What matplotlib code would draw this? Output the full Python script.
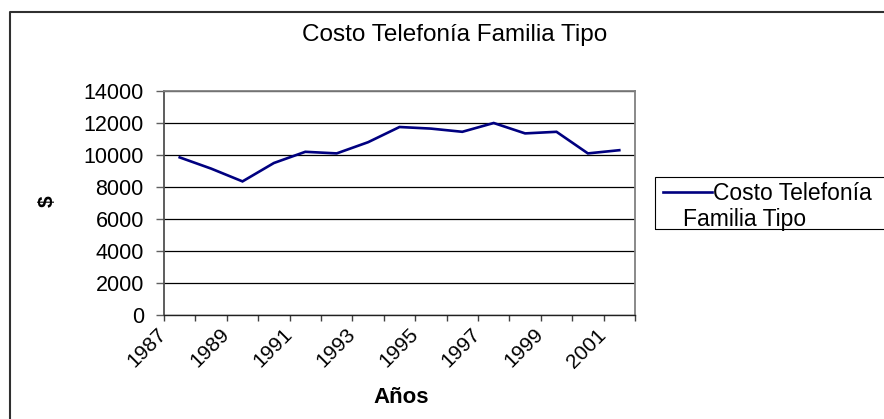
import matplotlib.pyplot as plt
from matplotlib.lines import Line2D
from matplotlib.patches import Rectangle
from matplotlib.transforms import ScaledTranslation

plt.rcParams["font.family"] = ["Liberation Sans", "DejaVu Sans"]

years = ["1987", "1988", "1989", "1990", "1991", "1992", "1993", "1994",
         "1995", "1996", "1997", "1998", "1999", "2000", "2001"]
costo = [9850, 9150, 8350, 9500, 10200, 10100, 10800, 11750,
         11650, 11450, 12000, 11350, 11450, 10100, 10300]
y_ticks = [0, 2000, 4000, 6000, 8000, 10000, 12000, 14000]

W, H = 884, 419
fig = plt.figure(figsize=(W / 100, H / 100), dpi=100)
ax = fig.add_axes([164 / W, 1 - 315 / H, (635 - 164) / W, (315 - 91) / H])

x = list(range(len(years)))
ax.plot(x, costo, color="#000080", lw=1.9, solid_joinstyle="miter")

ax.set_xlim(-0.5, len(years) - 0.5)
ax.set_ylim(0, 14000)
ax.set_yticks(y_ticks)
ax.set_yticklabels([str(v) for v in y_ticks], fontsize=15.5)
ax.tick_params(axis="y", direction="out", length=5.5, width=1, color="#606060", pad=9)

# category boundaries as major ticks, labels on every other category center
ax.set_xticks([i - 0.5 for i in range(len(years) + 1)])
ax.set_xticklabels([])
ax.tick_params(axis="x", which="major", direction="out", length=4.5, width=1, color="#404040")
ax.set_xticks(x[::2], minor=True)
ax.set_xticklabels(years[::2], minor=True, rotation=45, ha="right",
                   rotation_mode="anchor", va="center", fontsize=15)
ax.tick_params(axis="x", which="minor", length=0, pad=12)
off = ScaledTranslation(-0.16, 0, fig.dpi_scale_trans)
for lab in ax.get_xticklabels(minor=True):
    lab.set_transform(lab.get_transform() + off)

ax.yaxis.grid(True, color="black", lw=0.9)
ax.set_axisbelow(True)
for s in ["top", "right"]:
    ax.spines[s].set_color("#808080")
    ax.spines[s].set_linewidth(1.3)
ax.spines["left"].set_color("#505050")
ax.spines["left"].set_linewidth(1.3)
ax.spines["bottom"].set_color("#202020")
ax.spines["bottom"].set_linewidth(1.0)

fig.text(455 / W, 1 - 35 / H, "Costo Telefonía Familia Tipo",
         ha="center", va="center", fontsize=17.5)
fig.text(401 / W, 1 - 397 / H, "Años", ha="center", va="center",
         fontsize=16, fontweight="bold")
fig.text(47 / W, 1 - 201 / H, "$", ha="center", va="center",
         fontsize=15, fontweight="bold", rotation=90)

# legend drawn like the original chart (box runs off the right edge)
fig.add_artist(Rectangle((655 / W, 1 - 229 / H), 0.3, 52 / H,
                         transform=fig.transFigure, fill=False,
                         edgecolor="black", lw=0.8))
fig.add_artist(Line2D([663 / W, 712 / W], [1 - 192 / H, 1 - 192 / H],
                      transform=fig.transFigure, color="#000080", lw=1.9))
fig.text(713 / W, 1 - 193 / H, "Costo Telefonía", ha="left", va="center", fontsize=16.5)
fig.text(683 / W, 1 - 219 / H, "Familia Tipo", ha="left", va="center", fontsize=16.5)

# chart border (left and top only visible)
fig.add_artist(Line2D([10 / W, 10 / W, 1.0], [0, 1 - 12 / H, 1 - 12 / H],
                      transform=fig.transFigure, color="#303030", lw=1.5))

fig.savefig("out.png", dpi=100)
